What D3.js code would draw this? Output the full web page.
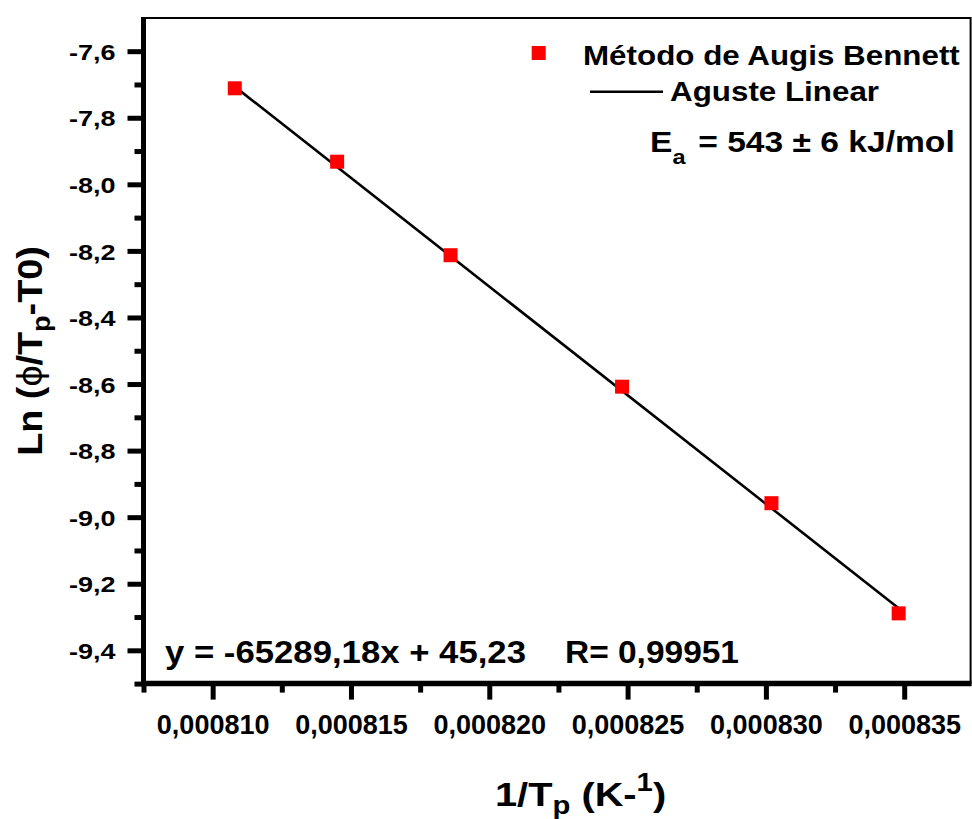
<!DOCTYPE html>
<html>
<head>
<meta charset="utf-8">
<script src="https://cdn.jsdelivr.net/npm/d3@7"></script>
<style>
  html, body { margin: 0; padding: 0; background: #fff; }
  svg { display: block; font-family: "Liberation Sans", Arial, sans-serif; font-weight: bold; }
</style>
</head>
<body>
<svg id="chart" width="972" height="819"></svg>
<script>
// Kissinger-type plot: Augis–Bennett method
const invTp = [0.0008108, 0.0008145, 0.0008186, 0.0008248, 0.0008302, 0.0008348];
const lnRate = [-7.7115, -7.932, -8.213, -8.608, -8.958, -9.289];

// Linear fit reported on the chart
const fitSlope = -65289.18;
const fitIntercept = 45.23;
const fitR = 0.99951;

// Activation energy
const eaValue = 543;
const eaError = 6;

const xTickValues = [0.000810, 0.000815, 0.000820, 0.000825, 0.000830, 0.000835];
const xMinorValues = [0.0008075, 0.0008125, 0.0008175, 0.0008225, 0.0008275, 0.0008325];
const yTickValues = [-9.4, -9.2, -9.0, -8.8, -8.6, -8.4, -8.2, -8.0, -7.8, -7.6];
const yMinorValues = [-9.5, -9.3, -9.1, -8.9, -8.7, -8.5, -8.3, -8.1, -7.9, -7.7];

const seriesNames = ["Método de Augis Bennett", "Aguste Linear"];

const svg = d3.select("#chart");

const x = d3.scaleLinear().domain([0.0008075, 0.0008374]).range([143.5, 970.6]);
const y = d3.scaleLinear().domain([-9.5, -7.5]).range([683.6, 17.9]);

const loc = d3.formatLocale({ decimal: ",", thousands: ".", grouping: [3], currency: ["", ""], minus: "-" });

// Text with sub/superscript parts, optional horizontal stretch and rotation
function richText(parent, o) {
  const g = parent.append("g")
    .attr("transform", `translate(${o.x},${o.y}) rotate(${o.rotate || 0}) scale(${o.sx || 1},1)`);
  const t = g.append("text")
    .attr("text-anchor", o.anchor || "start")
    .attr("font-size", o.size)
    .attr("fill", "#000");
  let shift = 0;
  o.parts.forEach(p => {
    const ts = t.append("tspan").text(p.text);
    const target = p.shift || 0;
    if (target !== shift) ts.attr("dy", target - shift);
    shift = target;
    if (p.size) ts.attr("font-size", p.size);
    if (p.weight) ts.attr("font-weight", p.weight);
    if (p.dx) ts.attr("dx", p.dx);
  });
  return t;
}

// ---- Axes ----
const [x0, x1] = x.range();
const [yb, yt] = y.range();

// minor ticks
const xMinor = svg.append("g").attr("transform", `translate(0,${yb})`)
  .call(d3.axisBottom(x).tickValues(xMinorValues).tickSize(9).tickFormat(""));
const yMinor = svg.append("g").attr("transform", `translate(${x0},0)`)
  .call(d3.axisLeft(y).tickValues(yMinorValues).tickSize(9).tickFormat(""));

// major ticks with labels
const xAxis = svg.append("g").attr("transform", `translate(0,${yb})`)
  .call(d3.axisBottom(x).tickValues(xTickValues).tickSize(16).tickFormat(loc.format(".6f")));
const yAxis = svg.append("g").attr("transform", `translate(${x0},0)`)
  .call(d3.axisLeft(y).tickValues(yTickValues).tickSize(16).tickFormat(loc.format(".1f")));

[xMinor, yMinor, xAxis, yAxis].forEach(a => {
  a.select(".domain").remove();
  a.selectAll(".tick line").attr("stroke", "#000").attr("stroke-width", 5);
});

xAxis.selectAll(".tick text")
  .attr("font-family", null)
  .attr("font-size", 27)
  .attr("fill", "#000")
  .attr("y", 734 - yb)
  .attr("dy", null);

const yLabelSx = 1.2;
yAxis.selectAll(".tick text")
  .attr("font-family", null)
  .attr("font-size", 22.5)
  .attr("fill", "#000")
  .attr("x", -28 / yLabelSx)
  .attr("dy", "0.36em")
  .attr("transform", `scale(${yLabelSx},1)`);
xAxis.attr("font-family", null).attr("font-size", null);
yAxis.attr("font-family", null).attr("font-size", null);

// frame: heavy left & bottom, thin top & right
svg.append("line").attr("x1", x0).attr("x2", x1).attr("y1", yt).attr("y2", yt)
  .attr("stroke", "#000").attr("stroke-width", 2);
svg.append("line").attr("x1", x1).attr("x2", x1).attr("y1", yt - 1).attr("y2", yb)
  .attr("stroke", "#000").attr("stroke-width", 2);
svg.append("line").attr("x1", x0).attr("x2", x0).attr("y1", yt - 1).attr("y2", yb + 2.5)
  .attr("stroke", "#000").attr("stroke-width", 5);
svg.append("line").attr("x1", x0 - 2.5).attr("x2", x1 + 1).attr("y1", yb).attr("y2", yb)
  .attr("stroke", "#000").attr("stroke-width", 5.5);

// ---- Fit line ----
const xFit = d3.extent(invTp);
svg.append("path")
  .datum(xFit.map(v => [v, fitSlope * v + fitIntercept]))
  .attr("fill", "none")
  .attr("stroke", "#000")
  .attr("stroke-width", 2.6)
  .attr("d", d3.line().x(d => x(d[0])).y(d => y(d[1])));

// ---- Data points ----
const sq = 14;
svg.append("g").selectAll("rect")
  .data(invTp.map((v, i) => [v, lnRate[i]]))
  .join("rect")
  .attr("x", d => x(d[0]) - sq / 2)
  .attr("y", d => y(d[1]) - sq / 2)
  .attr("width", sq)
  .attr("height", sq)
  .attr("fill", "#ff0000");

// ---- Legend ----
svg.append("rect").attr("x", 538.7 - sq / 2).attr("y", 53 - sq / 2)
  .attr("width", sq).attr("height", sq).attr("fill", "#ff0000");
richText(svg, { x: 583, y: 65, size: 28, sx: 1.12, parts: [{ text: seriesNames[0] }] });
svg.append("line").attr("x1", 590).attr("x2", 663).attr("y1", 91.7).attr("y2", 91.7)
  .attr("stroke", "#000").attr("stroke-width", 2.6);
richText(svg, { x: 670, y: 101, size: 28, sx: 1.12, parts: [{ text: seriesNames[1] }] });

richText(svg, {
  x: 650, y: 152, size: 30, sx: 1.12,
  parts: [
    { text: "E" },
    { text: "a", size: 21, shift: 12 },
    { text: ` = ${eaValue} ± ${eaError} kJ/mol`, shift: 0, dx: 3 }
  ]
});

// ---- Fit annotation ----
richText(svg, {
  x: 165, y: 663, size: 31, sx: 1.12,
  parts: [{ text: `y = ${loc.format(".2f")(fitSlope)}x + ${loc.format(".2f")(fitIntercept)}` }]
});
richText(svg, {
  x: 565, y: 663, size: 31, sx: 1.08,
  parts: [{ text: `R= ${loc.format(".5f")(fitR)}` }]
});

// ---- Axis titles ----
richText(svg, {
  x: 495, y: 806, size: 34, sx: 1.17,
  parts: [
    { text: "1/T" },
    { text: "p", size: 25, shift: 8 },
    { text: " (K-", shift: 0 },
    { text: "1", size: 25, shift: -15 },
    { text: ")", shift: 0 }
  ]
});

richText(svg, {
  x: 42, y: 351, size: 35, sx: 1.08, rotate: -90, anchor: "middle",
  parts: [
    { text: "Ln (" },
    { text: "ϕ", weight: "normal" },
    { text: "/T" },
    { text: "p", size: 25, shift: 8 },
    { text: "-T0)", shift: 0 }
  ]
});
</script>
</body>
</html>
